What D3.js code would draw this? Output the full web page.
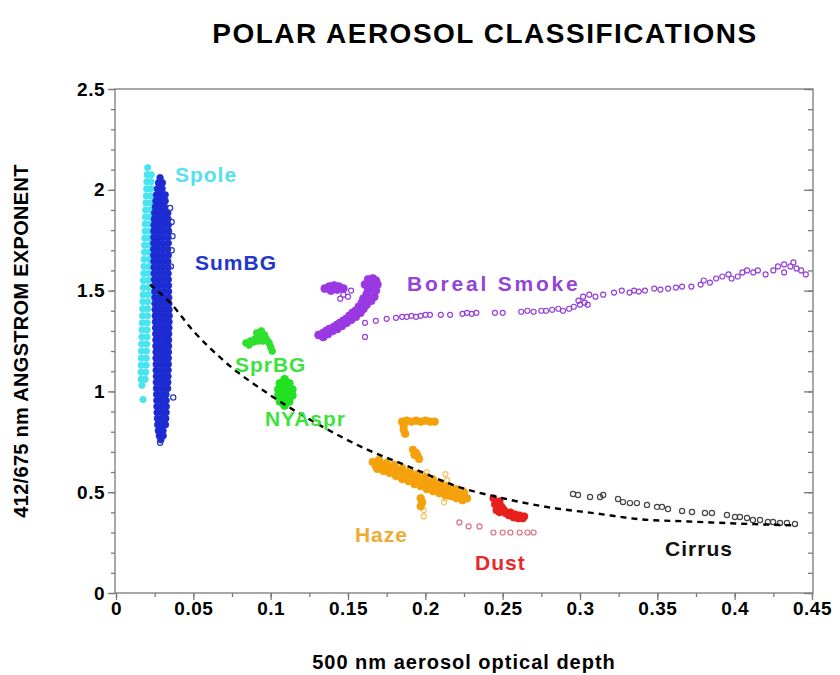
<!DOCTYPE html>
<html><head><meta charset="utf-8">
<script src="https://cdn.jsdelivr.net/npm/d3@7"></script>
<style>
html,body{margin:0;padding:0;background:#fff;}
svg text{font-family:"Liberation Sans",Arial,Helvetica,sans-serif;font-weight:bold;}
</style></head>
<body>
<svg id="chart" width="840" height="675"></svg>
<script>
// ---------------- DATA ----------------
const xTicks = [0,0.05,0.1,0.15,0.2,0.25,0.3,0.35,0.4,0.45];
const xTickLabels = ["0","0.05","0.1","0.15","0.2","0.25","0.3","0.35","0.4","0.45"];
const yTicks = [0,0.5,1,1.5,2,2.5];
const yTickLabels = ["0","0.5","1","1.5","2","2.5"];
const labelNames = ["Spole","SumBG","Boreal Smoke","SprBG","NYAspr","Haze","Dust","Cirrus"];

// Spole rows: [angstrom, aod, aod, ...]
const spoleRows = [
[2.11,0.0205],[2.075,0.0202,0.0228],[2.04,0.0200,0.0226],[2.005,0.0198,0.0226],[1.97,0.0196,0.0225],
[1.935,0.0194,0.0224],[1.90,0.0192,0.0223],[1.865,0.0190,0.0222],[1.83,0.0189,0.0221],[1.795,0.0188,0.0220],
[1.76,0.0186,0.0218],[1.725,0.0185,0.0217],[1.69,0.0184,0.0216],[1.655,0.0182,0.0214],[1.62,0.0181,0.0213],
[1.585,0.0180,0.0212],[1.55,0.0178,0.0210],[1.515,0.0177,0.0209],[1.48,0.0176,0.0208],[1.445,0.0174,0.0206],
[1.41,0.0173,0.0205],[1.375,0.0172,0.0204],[1.34,0.0170,0.0202],[1.305,0.0169,0.0201],[1.27,0.0168,0.0200],
[1.235,0.0166,0.0198],[1.20,0.0165,0.0197],[1.165,0.0164,0.0196],[1.13,0.0163,0.0195],[1.095,0.0162,0.0192],
[1.06,0.0163,0.0188],[1.03,0.0168],[0.96,0.0175]
];
// SumBG rows: [angstrom, aod, aod, ...]
const sumbgRows = [
[2.06,0.0285],[2.035,0.0275,0.0300],[2.005,0.0268,0.0298],[1.975,0.0262,0.0292,0.0318],[1.945,0.0258,0.0288,0.0318],
[1.915,0.0254,0.0284,0.0314],[1.885,0.0250,0.0280,0.0310,0.0335],[1.855,0.0248,0.0278,0.0308,0.0336],
[1.825,0.0246,0.0276,0.0306,0.0338],[1.795,0.0245,0.0275,0.0305,0.0340],[1.765,0.0245,0.0275,0.0305,0.0336],
[1.735,0.0244,0.0274,0.0304,0.0338],[1.705,0.0244,0.0274,0.0304,0.0334],[1.675,0.0244,0.0274,0.0304,0.0338],
[1.645,0.0245,0.0275,0.0305,0.0335],[1.615,0.0246,0.0276,0.0306,0.0336],[1.585,0.0247,0.0277,0.0307,0.0337],
[1.555,0.0248,0.0278,0.0308,0.0338],[1.525,0.0249,0.0279,0.0309,0.0339],[1.495,0.0250,0.0280,0.0310,0.0340],
[1.465,0.0251,0.0281,0.0311,0.0341],[1.435,0.0252,0.0282,0.0312,0.0342],[1.405,0.0253,0.0283,0.0313,0.0343],
[1.375,0.0254,0.0284,0.0314,0.0344],[1.345,0.0255,0.0285,0.0315,0.0343],[1.315,0.0256,0.0286,0.0316,0.0342],
[1.285,0.0257,0.0287,0.0317,0.0341],[1.255,0.0258,0.0288,0.0318,0.0340],[1.225,0.0258,0.0288,0.0318,0.0340],
[1.195,0.0259,0.0289,0.0319,0.0339],[1.165,0.0259,0.0289,0.0319,0.0338],[1.135,0.0260,0.0290,0.0320,0.0338],
[1.105,0.0260,0.0290,0.0320,0.0337],[1.075,0.0261,0.0291,0.0321,0.0336],[1.045,0.0261,0.0291,0.0321,0.0335],
[1.015,0.0262,0.0292,0.0322,0.0334],[0.985,0.0263,0.0293,0.0323],[0.955,0.0264,0.0294,0.0324],
[0.925,0.0265,0.0295,0.0325],[0.895,0.0266,0.0296,0.0324],[0.865,0.0268,0.0298,0.0322],
[0.835,0.0270,0.0300,0.0320],[0.805,0.0274,0.0304],[0.78,0.0280,0.0305],[0.76,0.0290]
];
const sumbgOpen = [[0.035,1.91],[0.036,1.84],[0.0365,1.77],[0.036,1.70],[0.0355,1.62],[0.037,0.97],[0.0285,0.745]];
const sprbgPts = [[0.084,1.24],[0.087,1.25],[0.090,1.26],[0.093,1.27],[0.091,1.29],[0.094,1.30],[0.096,1.28],
[0.097,1.26],[0.099,1.24],[0.100,1.22],[0.101,1.20],[0.086,1.23],[0.089,1.245],[0.092,1.25],[0.095,1.25],[0.098,1.25]];
const nyasprPts = [[0.109,1.06],[0.106,1.04],[0.109,1.04],[0.112,1.04],[0.105,1.01],[0.108,1.01],[0.111,1.01],
[0.114,1.01],[0.105,0.98],[0.108,0.98],[0.111,0.98],[0.114,0.98],[0.106,0.95],[0.109,0.95],[0.112,0.95],[0.109,0.93],
[0.1095,1.0],[0.1095,0.965],[0.1095,1.025]];
const borealDense = [[0.131,1.28],[0.134,1.29],[0.136,1.30],[0.138,1.31],[0.141,1.32],[0.143,1.33],[0.145,1.34],
[0.147,1.35],[0.149,1.36],[0.151,1.375],[0.153,1.39],[0.155,1.40],[0.157,1.42],[0.159,1.44],[0.160,1.46],
[0.162,1.48],[0.163,1.50],[0.164,1.52],[0.165,1.54],[0.166,1.56],[0.134,1.27],[0.137,1.285],[0.140,1.30],
[0.143,1.31],[0.146,1.325],[0.149,1.34],[0.152,1.355],[0.155,1.37],[0.158,1.39],[0.160,1.41],[0.162,1.43],
[0.165,1.45],[0.167,1.47],[0.168,1.50],[0.169,1.53],[0.168,1.55],[0.163,1.555],[0.161,1.53],
[0.135,1.51],[0.138,1.52],[0.141,1.525],[0.144,1.52],[0.147,1.51],[0.139,1.50],[0.143,1.505]];
const borealTrail = [[0.147,1.48],[0.150,1.47],[0.145,1.46],[0.152,1.50],[0.161,1.34],[0.161,1.27],
[0.168,1.35],[0.175,1.36],[0.181,1.365],[0.185,1.37],[0.188,1.37],[0.191,1.375],[0.194,1.37],[0.197,1.375],
[0.200,1.38],[0.203,1.38],[0.210,1.38],[0.216,1.38],[0.224,1.385],[0.227,1.39],[0.230,1.385],[0.233,1.39],
[0.245,1.39],[0.250,1.39],[0.262,1.395],[0.266,1.40],[0.270,1.395],[0.275,1.40],[0.278,1.40],[0.282,1.405],
[0.286,1.41],[0.289,1.40],[0.293,1.41],[0.296,1.42],[0.300,1.43],[0.303,1.44],[0.305,1.43],
[0.299,1.45],[0.302,1.47],[0.306,1.48],[0.310,1.47],[0.315,1.48],[0.322,1.49],[0.327,1.50],[0.332,1.49],
[0.335,1.50],[0.338,1.495],[0.342,1.50],[0.348,1.51],[0.352,1.505],[0.357,1.51],[0.362,1.515],[0.366,1.52],
[0.372,1.52],[0.378,1.53],[0.380,1.55],[0.384,1.54],[0.388,1.56],[0.392,1.57],[0.396,1.58],[0.398,1.56],
[0.402,1.57],[0.405,1.59],[0.408,1.60],[0.412,1.59],[0.415,1.60],[0.420,1.58],[0.425,1.60],[0.428,1.62],
[0.432,1.63],[0.436,1.62],[0.440,1.61],[0.443,1.60],[0.446,1.58],[0.438,1.64],[0.432,1.59]];
const hazeDense = [[0.166,0.65],[0.168,0.63],[0.171,0.64],[0.174,0.625],[0.177,0.62],[0.180,0.61],[0.183,0.60],
[0.186,0.59],[0.189,0.585],[0.192,0.575],[0.195,0.565],[0.198,0.555],[0.201,0.545],[0.204,0.54],[0.207,0.53],
[0.210,0.52],[0.213,0.51],[0.216,0.505],[0.219,0.50],[0.222,0.49],[0.225,0.48],[0.227,0.47],[0.224,0.46],
[0.220,0.47],[0.217,0.48],[0.213,0.485],[0.209,0.495],[0.205,0.505],[0.201,0.515],[0.197,0.53],[0.193,0.54],
[0.189,0.555],[0.185,0.565],[0.181,0.58],[0.177,0.595],[0.173,0.605],[0.169,0.615],[0.170,0.66],[0.175,0.645],
[0.180,0.635],[0.185,0.62],[0.190,0.605],[0.195,0.59],[0.200,0.575],[0.205,0.56],[0.210,0.545],[0.215,0.53],
[0.220,0.515],[0.225,0.50],
[0.185,0.85],[0.188,0.855],[0.191,0.85],[0.194,0.855],[0.197,0.85],[0.200,0.855],[0.203,0.85],[0.206,0.85],
[0.186,0.83],[0.186,0.81],[0.187,0.79],
[0.192,0.71],[0.194,0.695],[0.195,0.68],[0.196,0.665],[0.193,0.685],
[0.197,0.47],[0.198,0.45],[0.197,0.43]];
const hazeLight = [[0.201,0.60],[0.205,0.57],[0.213,0.59],[0.214,0.56],[0.213,0.53],[0.199,0.41],[0.199,0.38],[0.213,0.47],[0.212,0.45]];
const dustDense = [[0.245,0.44],[0.247,0.42],[0.249,0.43],[0.251,0.41],[0.248,0.40],[0.252,0.395],[0.255,0.40],
[0.258,0.39],[0.261,0.385],[0.264,0.38],[0.257,0.375],[0.260,0.37],[0.263,0.37],[0.254,0.385],[0.250,0.42],
[0.246,0.41],[0.244,0.47],[0.248,0.455]];
const dustOpen = [[0.222,0.35],[0.228,0.33],[0.235,0.33],[0.244,0.30],[0.250,0.30],[0.255,0.30],[0.261,0.30],[0.266,0.30],[0.270,0.30]];
const cirrusX = [0.2955,0.2987,0.3065,0.313,0.315,0.3246,0.3278,0.3323,0.3368,0.3433,0.3498,0.353,0.3569,0.366,
0.3724,0.3808,0.3853,0.395,0.4002,0.4034,0.408,0.4118,0.4164,0.4215,0.4248,0.4293,0.4338,0.439];
const cirrusY = [0.491,0.486,0.476,0.476,0.486,0.466,0.451,0.446,0.446,0.437,0.427,0.427,0.417,0.407,
0.402,0.397,0.397,0.387,0.377,0.377,0.372,0.362,0.362,0.352,0.352,0.347,0.347,0.342];
const fitX = [0.022,0.035,0.05,0.07,0.1,0.13,0.16,0.19,0.22,0.25,0.28,0.31,0.34,0.37,0.40,0.44];
const fitY = [1.53,1.44,1.30,1.15,0.98,0.84,0.72,0.625,0.53,0.47,0.425,0.395,0.365,0.355,0.345,0.335];

// ---------------- DRAW ----------------
const svg = d3.select("#chart");
const L=116, R=812, T=89, B=593;
const x = d3.scaleLinear().domain([0,0.45]).range([L,R]);
const y = d3.scaleLinear().domain([0,2.5]).range([B,T]);
const axisColor = "#7a7a7a";

const rowsToPts = rows => rows.flatMap(r => r.slice(1).map(v => [v, r[0]]));

// frame
svg.append("rect").attr("x",L-1).attr("y",T).attr("width",R-L+2).attr("height",B-T)
  .attr("fill","none").attr("stroke",axisColor).attr("stroke-width",1.3);

// axes
const xMinor = d3.range(0, 0.451, 0.025);
const yMinor = d3.range(0, 2.501, 0.1);
function styleAxis(g){ g.select(".domain").remove(); g.selectAll("line").attr("stroke",axisColor).attr("stroke-width",1.3); }
svg.append("g").attr("transform",`translate(0,${B})`)
  .call(d3.axisBottom(x).tickValues(xMinor).tickSize(4).tickFormat("")).call(styleAxis);
svg.append("g").attr("transform",`translate(0,${B})`)
  .call(d3.axisBottom(x).tickValues(xTicks).tickSize(7).tickPadding(2).tickFormat((d,i)=>xTickLabels[i]))
  .call(styleAxis)
  .selectAll("text").attr("fill","#000").style("font-size","19px").style("letter-spacing","0.5px");
svg.append("g").attr("transform",`translate(${L-1},0)`)
  .call(d3.axisLeft(y).tickValues(yMinor).tickSize(4).tickFormat("")).call(styleAxis);
svg.append("g").attr("transform",`translate(${L-1},0)`)
  .call(d3.axisLeft(y).tickValues(yTicks).tickSize(7).tickPadding(3).tickFormat((d,i)=>yTickLabels[i]))
  .call(styleAxis)
  .selectAll("text").attr("fill","#000").style("font-size","19px").style("letter-spacing","0.5px");
svg.append("g").attr("transform",`translate(${R+1},0)`)
  .call(d3.axisLeft(y).tickValues(yMinor).tickSize(5).tickFormat("")).call(styleAxis);
svg.append("g").attr("transform",`translate(${R+1},0)`)
  .call(d3.axisLeft(y).tickValues(yTicks).tickSize(9).tickFormat("")).call(styleAxis);

// series
const series = [
  {pts: rowsToPts(spoleRows), color:"#48e4f0", fill:true, r:3.2},
  {pts: rowsToPts(sumbgRows), color:"#1c2bd2", fill:true, r:3.3},
  {pts: sumbgOpen, color:"#2535c0", fill:false, r:2.6},
  {pts: sprbgPts, color:"#30e030", fill:true, r:3.4},
  {pts: nyasprPts, color:"#22e022", fill:true, r:4},
  {pts: borealTrail, color:"#9440d8", fill:false, r:2.5},
  {pts: borealDense, color:"#9a38e4", fill:true, r:4},
  {pts: hazeLight, color:"#f5c260", fill:false, r:2.5},
  {pts: hazeDense, color:"#f4a10c", fill:true, r:3.8},
  {pts: dustOpen, color:"#e07080", fill:false, r:2.5},
  {pts: dustDense, color:"#e8201c", fill:true, r:3.6},
  {pts: cirrusX.map((v,i)=>[v,cirrusY[i]]), color:"#444", fill:false, r:2.6}
];
series.forEach(s=>{
  svg.append("g").selectAll("circle").data(s.pts).join("circle")
    .attr("cx",d=>x(d[0])).attr("cy",d=>y(d[1])).attr("r",s.r)
    .attr("fill", s.fill ? s.color : "none")
    .attr("stroke", s.color).attr("stroke-width", s.fill?0.8:1.2);
});

// fit curve
svg.append("path").datum(fitX.map((v,i)=>[v,fitY[i]]))
  .attr("d", d3.line().x(d=>x(d[0])).y(d=>y(d[1])).curve(d3.curveMonotoneX))
  .attr("fill","none").attr("stroke","#000").attr("stroke-width",2.4).attr("stroke-dasharray","6,5");

// cluster labels
const labelStyle = [
  {x:0.0381,y:2.039,color:"#55e0ee",ls:1},
  {x:0.0511,y:1.602,color:"#2236c8",ls:1},
  {x:0.1881,y:1.498,color:"#9444d6",ls:2.8},
  {x:0.0769,y:1.096,color:"#3ee23e",ls:1},
  {x:0.0963,y:0.828,color:"#3ee23e",ls:1},
  {x:0.1545,y:0.253,color:"#f1a932",ls:1},
  {x:0.2321,y:0.114,color:"#e42a2a",ls:1},
  {x:0.355,y:0.1835,color:"#111",ls:1}
];
svg.append("g").selectAll("text").data(labelNames).join("text")
  .attr("x",(d,i)=>x(labelStyle[i].x)).attr("y",(d,i)=>y(labelStyle[i].y))
  .attr("fill",(d,i)=>labelStyle[i].color)
  .style("font-size","21px").style("letter-spacing",(d,i)=>labelStyle[i].ls+"px")
  .text(d=>d);

// titles
svg.append("text").attr("x",485).attr("y",43).attr("text-anchor","middle")
  .style("font-size","28px").style("letter-spacing","1.5px").text("POLAR AEROSOL CLASSIFICATIONS");
svg.append("text").attr("transform","translate(28,341) rotate(-90)").attr("text-anchor","middle")
  .style("font-size","20px").style("letter-spacing","0.3px").text("412/675 nm ANGSTROM EXPONENT");
svg.append("text").attr("x",464).attr("y",669).attr("text-anchor","middle")
  .style("font-size","20px").style("letter-spacing","1px").text("500 nm aerosol optical depth");
</script>
</body></html>
